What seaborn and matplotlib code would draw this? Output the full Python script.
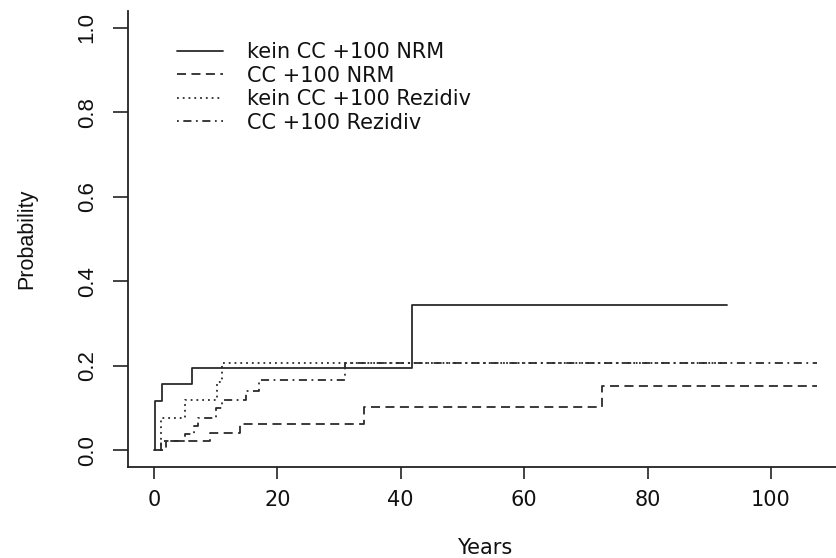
import matplotlib
matplotlib.use("Agg")
import matplotlib.pyplot as plt
import seaborn as sns
import pandas as pd

# ---- data ----
t_kein_nrm = [0, 0.2, 1.3, 6.1, 41.9, 92.8]
p_kein_nrm = [0, 0.117, 0.156, 0.195, 0.344, 0.344]

t_cc_nrm = [0, 2.0, 9.1, 13.9, 34.0, 72.6, 107.5]
p_cc_nrm = [0, 0.022, 0.041, 0.063, 0.101, 0.152, 0.152]

t_kein_rez = [0, 1.2, 5.0, 10.2, 11.1, 92.8]
p_kein_rez = [0, 0.077, 0.118, 0.162, 0.207, 0.207]

t_cc_rez = [0, 1.2, 5.0, 6.5, 7.2, 10.0, 11.1, 14.9, 17.0, 30.9, 107.5]
p_cc_rez = [0, 0.022, 0.039, 0.058, 0.075, 0.099, 0.118, 0.141, 0.167, 0.207, 0.207]

labels = ["kein CC +100 NRM", "CC +100 NRM", "kein CC +100 Rezidiv", "CC +100 Rezidiv"]
x_ticks = [0, 20, 40, 60, 80, 100]
y_ticks = [0.0, 0.2, 0.4, 0.6, 0.8, 1.0]
y_tick_labels = ["0.0", "0.2", "0.4", "0.6", "0.8", "1.0"]

sns.set_style("ticks")
plt.rcParams["font.family"] = ["DejaVu Sans"]

W, H = 837, 558
fig = plt.figure(figsize=(W / 100, H / 100), dpi=100)
ax_left, ax_bottom_px, ax_top_px = 128, 467, 11
ax = fig.add_axes([ax_left / W, (H - ax_bottom_px) / H, (W - ax_left) / W,
                   (ax_bottom_px - ax_top_px) / H])

line_color = "#2b2b2b"
lw = 1.3
styles = ["-", (0, (5, 3)), (0, (1, 2.2)), (0, (1, 2.5, 4.5, 2.5))]
series = [(t_kein_nrm, p_kein_nrm), (t_cc_nrm, p_cc_nrm),
          (t_kein_rez, p_kein_rez), (t_cc_rez, p_cc_rez)]

for (tt, pp), lab, ls in zip(series, labels, styles):
    df = pd.DataFrame({"Years": tt, "Probability": pp})
    sns.lineplot(data=df, x="Years", y="Probability", ax=ax, estimator=None,
                 sort=False, drawstyle="steps-post", color=line_color,
                 linewidth=lw, linestyle=ls, label=lab, legend=False)

ax.set_xlim(-4.2, 110.7)
ax.set_ylim(-0.04, 1.04)
sns.despine(ax=ax, top=True, right=True)
for s in ["left", "bottom"]:
    ax.spines[s].set_color("#222222")
    ax.spines[s].set_linewidth(1.3)

ax.set_xticks(x_ticks)
ax.set_xticklabels([str(v) for v in x_ticks], fontsize=15, color="#111111")
ax.set_yticks(y_ticks)
ax.set_yticklabels(y_tick_labels, rotation=90, va="center",
                   fontsize=16, color="#111111", family=["Liberation Sans"])
ax.tick_params(axis="x", length=8.6, width=1.2, pad=8, color="#222222", direction="out")
ax.tick_params(axis="y", length=10.8, width=1.2, pad=11, color="#222222", direction="out")

ax.set_xlabel("Years", fontsize=15, color="#111111")
ax.xaxis.set_label_coords((485 - ax_left) / (W - ax_left), (ax_bottom_px - 538) / 456)
ax.set_ylabel("Probability", fontsize=15.5, color="#111111", family=["Liberation Sans"])
ax.yaxis.set_label_coords((37 - ax_left) / (W - ax_left), 0.5)

handles, labs = ax.get_legend_handles_labels()
fig.legend(handles, labs, loc="upper left", bbox_to_anchor=(177 / W, 1 - 42 / H),
           frameon=False, fontsize=15, borderpad=0, borderaxespad=0,
           handlelength=2.2, handletextpad=1.15, labelspacing=0.17,
           labelcolor="#111111")

fig.savefig("out.png", dpi=100)
